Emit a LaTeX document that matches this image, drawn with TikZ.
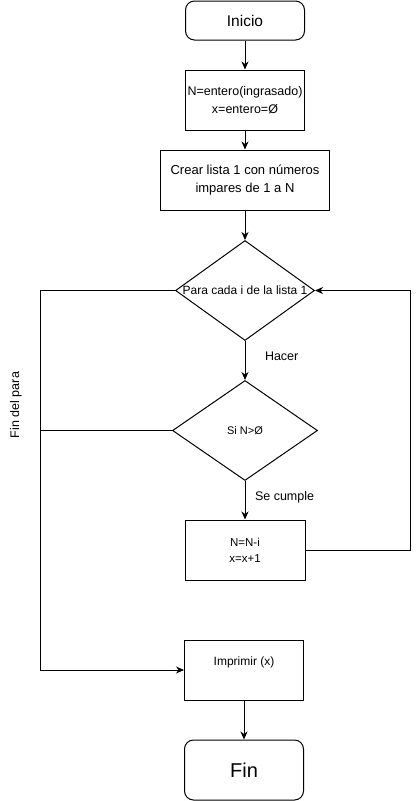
\documentclass[tikz,border=0pt]{standalone}
\usepackage{fontspec}
\setmainfont{Liberation Sans}
\usepackage{tikz}
\usetikzlibrary{shapes.geometric, arrows.meta, positioning}
\tikzset{
	basenode/.style={
			draw=black,
			line width=1pt,
			fill=white,
			inner sep=0pt,
			align=center,
			font=\fontsize{12.5}{18}\selectfont
		},
	terminalnode/.style={
			basenode,
			rectangle,
			rounded corners=9pt,
			minimum width=119pt,
			minimum height=39pt
		},
	processnode/.style={
			basenode,
			rectangle,
			minimum width=119pt,
			minimum height=60pt
		},
	decisionnode/.style={
			basenode,
			diamond,
			minimum width=139pt,
			minimum height=100pt
		},
	flowline/.style={
			line width=1pt,
			-{Stealth[length=8pt, width=7pt, inset=2.5pt]}
		},
	plainline/.style={
			line width=1pt
		},
	textlabel/.style={
			font=\fontsize{12.5}{15}\selectfont,
			inner sep=0pt
		}
}
\begin{document}
\begin{tikzpicture}[x=1pt, y=-1pt]

				\useasboundingbox (0,0) rectangle (419,801);

				\node[terminalnode, font=\fontsize{15.5}{18}\selectfont] (inicio) at (245,20.5) {Inicio};
				\node[processnode] (datos) at (245,100) {N=entero(ingrasado)\\x=entero=Ø};
				\node[processnode, minimum width=169pt, font=\fontsize{13}{18}\selectfont] (lista) at (245,180) {Crear lista 1 con números\\impares de 1 a N};
				\node[decisionnode, font=\fontsize{12}{18}\selectfont] (para) at (245,290.5) {\makebox[0pt]{Para cada i de la lista 1}};
				\node[decisionnode, minimum width=145pt, font=\fontsize{11}{16}\selectfont] (si) at (245,430.5) {Si N>Ø};
				\node[processnode, minimum width=120pt, font=\fontsize{11.5}{16}\selectfont] (calc) at (245,550) {N=N-i\\x=x+1};
				\node[processnode, text depth=17pt, font=\fontsize{12}{18}\selectfont] (imprimir) at (244,670) {Imprimir (x)};
				\node[terminalnode, minimum height=60pt, font=\fontsize{20}{24}\selectfont] (fin) at (244,770) {Fin};

				\node[textlabel, rotate=90] (finpara) at (16,405) {Fin del para};

				\coordinate (lazoder) at (410.5,420);
				\coordinate (lazoizq) at (40.5,480);

				\draw[flowline] (inicio) edge (datos);
				\draw[flowline] (datos) edge (lista);
				\draw[flowline] (lista) edge (para);

				\draw[flowline] (para) edge node[textlabel, midway, right, xshift=19.5pt, yshift=4.5pt] {Hacer} (si);
				\draw[flowline] (si) edge node[textlabel, midway, right, xshift=9.5pt, yshift=3pt] {Se cumple} (calc);

				\draw[flowline] (calc.east) -| (lazoder) |- (para.east);
				\draw[flowline] (para.west) -| (lazoizq) |- (imprimir.west);
				\draw[plainline] (si.west) -- (si.west -| lazoizq);

				\draw[flowline] (imprimir) edge (fin);
			\end{tikzpicture}
\end{document}
